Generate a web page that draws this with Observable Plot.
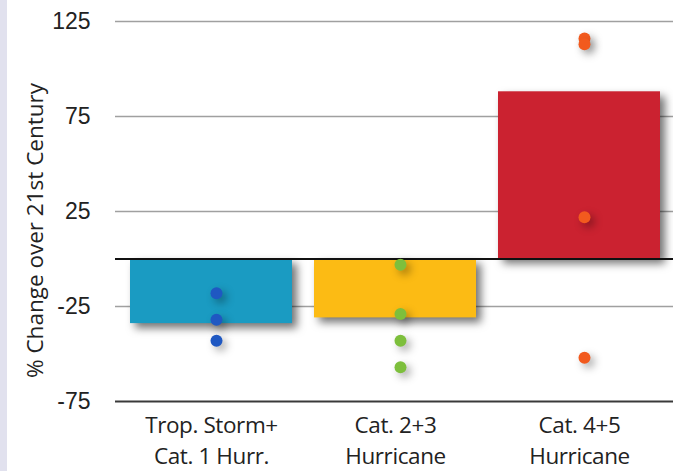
<!DOCTYPE html>
<html>
<head>
<meta charset="utf-8">
<script src="https://cdn.jsdelivr.net/npm/d3@7"></script>
<script src="https://cdn.jsdelivr.net/npm/@observablehq/plot@0.6"></script>
<style>
  html, body { margin: 0; padding: 0; background: #ffffff; }
  #strip { position: absolute; left: 0; top: 0; width: 7px; height: 471px; background: #e1e1ee; }
  #chart { position: absolute; left: 0; top: 0; }
  g[aria-label="bar"] rect { filter: drop-shadow(5px 5px 4px rgba(0,0,0,0.55)); }
  g[aria-label="dot"] circle { filter: drop-shadow(4px 4px 4px rgba(0,0,0,0.35)); }
  g[aria-label="x-axis tick label"] text { letter-spacing: -0.4px; }
</style>
</head>
<body>
<div id="strip"></div>
<div id="chart"></div>
<script>
// Categories and labels
const categories = ["ts1", "c23", "c45"];
const categoryLabels = ["Trop. Storm+\nCat. 1 Hurr.", "Cat. 2+3\nHurricane", "Cat. 4+5\nHurricane"];
// Bar values (% change)
const barValues = [-34, -31, 88];
const barColors = ["#1a9bc2", "#fcbb14", "#cb2230"];
// Individual model points per category
const pointsTS1 = [-18, -32, -43];
const pointsC23 = [-3, -29, -43, -57];
const pointsC45 = [116, 113, 22, -52];
const pointColors = ["#1f58c2", "#7dbf3c", "#f25a1e"];
// Axis ticks
const yTicks = [125, 75, 25, -25, -75];
const yLabel = "% Change over 21st Century";

const bars = categories.map((c, i) => ({cat: c, value: barValues[i]}));
const points = [
  ...pointsTS1.map(v => ({cat: "ts1", value: v})),
  ...pointsC23.map(v => ({cat: "c23", value: v})),
  ...pointsC45.map(v => ({cat: "c45", value: v}))
];

const chart = Plot.plot({
  width: 673,
  height: 471,
  marginLeft: 115,
  marginRight: 0,
  marginTop: 21,
  marginBottom: 70,
  style: {background: "transparent", overflow: "visible"},
  x: {domain: categories, paddingInner: 0.12, paddingOuter: 0.07, align: 0.55, axis: null},
  y: {domain: [-75, 125], axis: null},
  marks: [
    Plot.ruleY(yTicks.filter(t => t !== -75), {stroke: "#a0a0a0", strokeWidth: 1.6}),
    Plot.ruleY([-75], {stroke: "#3a3a3a", strokeWidth: 1.8}),
    Plot.barY(bars, {x: "cat", y: "value", fill: d => barColors[categories.indexOf(d.cat)], ariaLabel: "bar"}),
    Plot.ruleY([0], {stroke: "#111", strokeWidth: 2.2}),
    Plot.dot(points, {x: "cat", y: "value", dx: 5, r: 6, fill: d => pointColors[categories.indexOf(d.cat)], stroke: "none", ariaLabel: "dot"}),
    Plot.axisY({ticks: yTicks, tickSize: 0, tickPadding: 25, fontSize: 23, label: null,
      tickFormat: d => String(d),
      fontFamily: "Liberation Sans, Arial, sans-serif", fill: "#222"}),
    Plot.axisX({tickSize: 0, tickPadding: 10, fontSize: 22.5, lineHeight: 1.36, label: null,
      tickFormat: c => categoryLabels[categories.indexOf(c)],
      fontFamily: "Open Sans, sans-serif", fill: "#222"}),
    Plot.text([yLabel], {frameAnchor: "left", textAnchor: "middle", rotate: -90, dx: -80, dy: 19, fontSize: 22.5,
      fontFamily: "Open Sans, sans-serif", fill: "#222", text: d => d})
  ]
});
document.getElementById("chart").appendChild(chart);
</script>
</body>
</html>
